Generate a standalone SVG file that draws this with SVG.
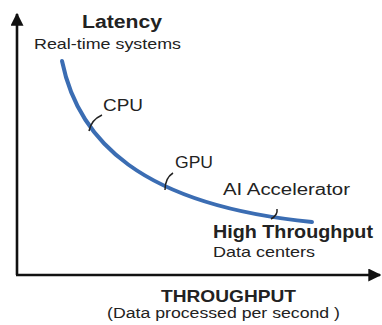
<svg xmlns="http://www.w3.org/2000/svg" width="382" height="325" viewBox="0 0 382 325">
<style>
text{font-family:"Liberation Sans","DejaVu Sans",sans-serif;fill:#222}
.b{font-weight:bold}
.axis{stroke:#111;stroke-width:2.6;fill:none}
.curve{stroke:#3b6db3;stroke-width:4;fill:none;stroke-linecap:round}
.tick{stroke:#222;stroke-width:1.5;fill:none}
</style>
<defs>
<marker id="ah" viewBox="0 0 10 10" refX="9" refY="5" markerWidth="5" markerHeight="5" orient="auto" markerUnits="strokeWidth">
<path d="M0,0 L10,5 L0,10 z" fill="#111"/>
</marker>
</defs>
<g id="axes">
<path class="axis" d="M17,275 L17,14" marker-end="url(#ah)"/>
<path class="axis" d="M16,275 L380,275" marker-end="url(#ah)"/>
</g>
<g id="connectors">
<path class="curve" d="M62,61 C78,140 140,205 312,222"/>
<path class="tick" d="M89,131 Q91,120 102,115"/>
<path class="tick" d="M165,190 Q165,178 173,173"/>
<path class="tick" d="M271,219 Q278,215 277,209"/>
</g>
<g id="latency">
<text class="b" x="82" y="28" font-size="18" textLength="80" lengthAdjust="spacingAndGlyphs">Latency</text>
<text x="34" y="49" font-size="15" textLength="147" lengthAdjust="spacingAndGlyphs">Real-time systems</text>
</g>
<g id="cpu"><text x="103" y="111" font-size="17" textLength="40" lengthAdjust="spacingAndGlyphs">CPU</text></g>
<g id="gpu"><text x="175" y="168" font-size="17" textLength="38" lengthAdjust="spacingAndGlyphs">GPU</text></g>
<g id="ai"><text x="223" y="195" font-size="16" textLength="127" lengthAdjust="spacingAndGlyphs">AI Accelerator</text></g>
<g id="throughput-high">
<text class="b" x="213" y="238" font-size="18" textLength="160" lengthAdjust="spacingAndGlyphs">High Throughput</text>
<text x="213" y="257" font-size="14.5" textLength="102" lengthAdjust="spacingAndGlyphs">Data centers</text>
</g>
<g id="xlabel">
<text class="b" x="161" y="302" font-size="16.5" textLength="135" lengthAdjust="spacingAndGlyphs">THROUGHPUT</text>
<text x="107" y="318" font-size="14" textLength="233" lengthAdjust="spacingAndGlyphs">(Data processed per second )</text>
</g>
</svg>
